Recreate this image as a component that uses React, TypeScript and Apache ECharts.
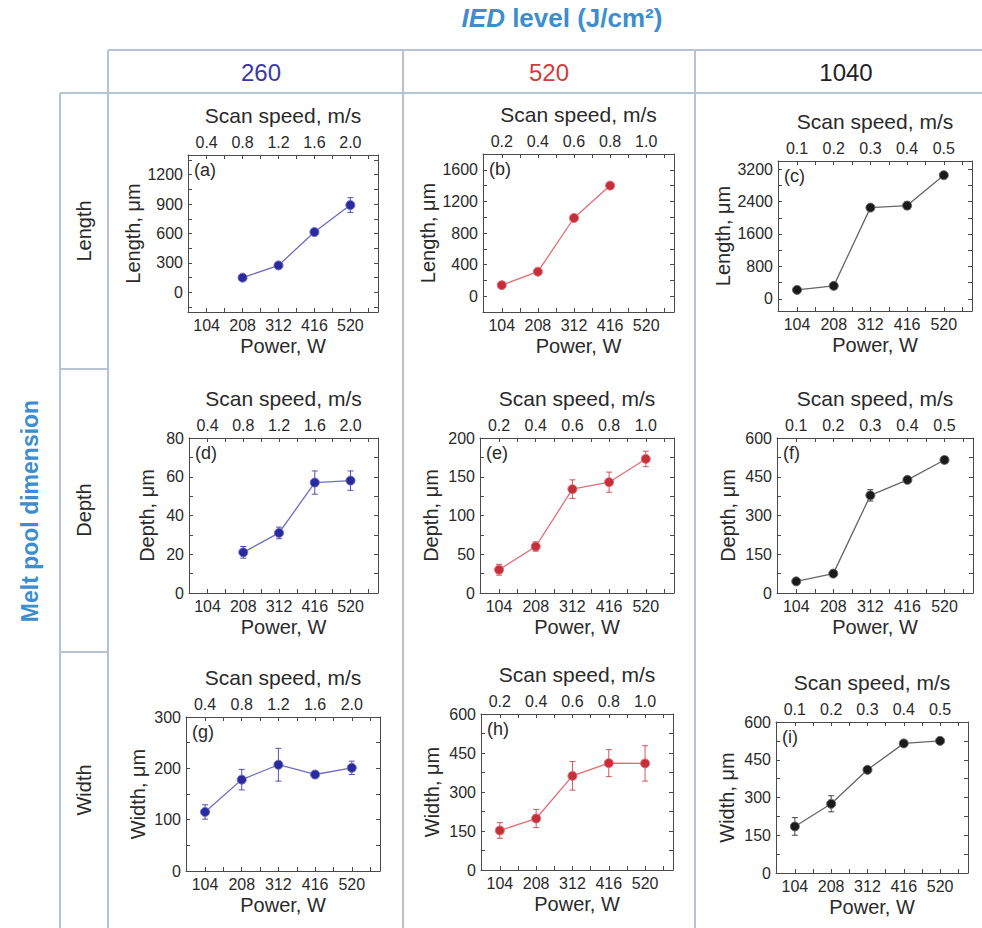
import React, { useEffect, useRef } from "react";
import * as echarts from "echarts";

// ---------- tick labels ----------
const powerTicks = [104, 208, 312, 416, 520];
const speedTicks260 = ["0.4", "0.8", "1.2", "1.6", "2.0"];
const speedTicks520 = ["0.2", "0.4", "0.6", "0.8", "1.0"];
const speedTicks1040 = ["0.1", "0.2", "0.3", "0.4", "0.5"];

const lengthTicks260 = [0, 300, 600, 900, 1200];
const lengthTicks520 = [0, 400, 800, 1200, 1600];
const lengthTicks1040 = [0, 800, 1600, 2400, 3200];
const depthTicks260 = [0, 20, 40, 60, 80];
const depthTicks520 = [0, 50, 100, 150, 200];
const depthTicks1040 = [0, 150, 300, 450, 600];
const widthTicks260 = [0, 100, 200, 300];
const widthTicks520 = [0, 150, 300, 450, 600];
const widthTicks1040 = [0, 150, 300, 450, 600];

// ---------- categories ----------
const iedLevels = ["260", "520", "1040"];
const dimensions = ["Length", "Depth", "Width"];
const panelLabels = ["(a)", "(b)", "(c)", "(d)", "(e)", "(f)", "(g)", "(h)", "(i)"];

// ---------- series values (µm) ----------
const powerA = [208, 312, 416, 520];
const lengthA = [150, 275, 615, 890];
const lengthErrA = [20, 20, 25, 75];

const powerB = [104, 208, 312, 416];
const lengthB = [140, 310, 990, 1400];
const lengthErrB = [20, 25, 30, 30];

const powerC = [104, 208, 312, 416, 520];
const lengthC = [220, 320, 2250, 2300, 3050];
const lengthErrC = [40, 50, 40, 90, 60];

const powerD = [208, 312, 416, 520];
const depthD = [21, 31, 57, 58];
const depthErrD = [3, 3, 6, 5];

const powerE = [104, 208, 312, 416, 520];
const depthE = [30, 60, 134, 143, 173];
const depthErrE = [7, 6, 12, 13, 10];

const powerF = [104, 208, 312, 416, 520];
const depthF = [45, 75, 378, 438, 515];
const depthErrF = [8, 8, 22, 10, 12];

const powerG = [104, 208, 312, 416, 520];
const widthG = [115, 178, 207, 188, 201];
const widthErrG = [14, 20, 32, 5, 13];

const powerH = [104, 208, 312, 416, 520];
const widthH = [152, 198, 362, 411, 410];
const widthErrH = [30, 35, 55, 52, 68];

const powerI = [104, 208, 312, 416, 520];
const widthI = [185, 275, 410, 515, 525];
const widthErrI = [35, 32, 8, 8, 8];

// ---------- styles / layout ----------
const FONT = "'Liberation Sans', Arial, sans-serif";
const markerColors = ["#2a2aa0", "#c4303a", "#1a1a1a"];
const lineColors = ["#6c6cc0", "#e56c76", "#666666"];
const headerColors = ["#3b37a6", "#d23c3c", "#222222"];
const titleBlue = "#3d8ecf";
const tableLine = "#b7c2d3";
const textColor = "#2a2a2a";

const grids = [
  { left: 188, top: 155, width: 190, height: 157 },
  { left: 483, top: 154, width: 191, height: 158 },
  { left: 778, top: 161, width: 194, height: 150 },
  { left: 189, top: 438, width: 189, height: 155 },
  { left: 480, top: 438, width: 194, height: 155 },
  { left: 777, top: 438, width: 196, height: 155 },
  { left: 186, top: 717, width: 194, height: 154 },
  { left: 481, top: 714, width: 192, height: 156 },
  { left: 776, top: 722, width: 192, height: 151 },
];
const yNameGaps = [45, 45, 45, 32, 39, 39, 38, 39, 39];

const panels = [
  { power: powerA, values: lengthA, errors: lengthErrA, yTicks: lengthTicks260, yMin: -200, yMax: 1400, speed: speedTicks260 },
  { power: powerB, values: lengthB, errors: lengthErrB, yTicks: lengthTicks520, yMin: -200, yMax: 1800, speed: speedTicks520 },
  { power: powerC, values: lengthC, errors: lengthErrC, yTicks: lengthTicks1040, yMin: -300, yMax: 3400, speed: speedTicks1040 },
  { power: powerD, values: depthD, errors: depthErrD, yTicks: depthTicks260, yMin: 0, yMax: 80, speed: speedTicks260 },
  { power: powerE, values: depthE, errors: depthErrE, yTicks: depthTicks520, yMin: 0, yMax: 200, speed: speedTicks520 },
  { power: powerF, values: depthF, errors: depthErrF, yTicks: depthTicks1040, yMin: 0, yMax: 600, speed: speedTicks1040 },
  { power: powerG, values: widthG, errors: widthErrG, yTicks: widthTicks260, yMin: 0, yMax: 300, speed: speedTicks260 },
  { power: powerH, values: widthH, errors: widthErrH, yTicks: widthTicks520, yMin: 0, yMax: 600, speed: speedTicks520 },
  { power: powerI, values: widthI, errors: widthErrI, yTicks: widthTicks1040, yMin: 0, yMax: 600, speed: speedTicks1040 },
];

const X_MIN = 50;
const X_MAX = 600;

function minorTicks(major: number[], lo: number, hi: number) {
  const step = major[1] - major[0];
  const out: number[] = [];
  for (let k = -2; k <= major.length * 2 + 1; k++) {
    const v = major[0] + (k * step) / 2;
    if (v >= lo && v <= hi) out.push(v);
  }
  return out;
}

function buildOption() {
  const grid: any[] = [];
  const xAxis: any[] = [];
  const yAxis: any[] = [];
  const series: any[] = [];
  const graphic: any[] = [];

  const axisLine = { show: true, onZero: false, lineStyle: { color: "#4a4a4a", width: 1 } };
  const tick = (vals: number[]) => ({
    show: true,
    inside: true,
    length: 4,
    customValues: vals,
    lineStyle: { color: "#4a4a4a", width: 1 },
  });
  const labelBase = { color: textColor, fontSize: 16, fontFamily: FONT };
  const nameBase = { color: textColor, fontSize: 20, fontFamily: FONT };

  const xTickVals = minorTicks(powerTicks, X_MIN, X_MAX);

  panels.forEach((p, i) => {
    const col = i % 3;
    const row = Math.floor(i / 3);
    const g = grids[i];
    grid.push({ ...g, containLabel: false });

    // bottom power axis
    xAxis.push({
      type: "value",
      gridIndex: i,
      position: "bottom",
      min: X_MIN,
      max: X_MAX,
      axisLine,
      axisTick: tick(xTickVals),
      splitLine: { show: false },
      axisLabel: { ...labelBase, margin: 5, customValues: powerTicks, formatter: (v: number) => String(v) },
      name: "Power, W",
      nameLocation: "middle",
      nameGap: 24,
      nameTextStyle: nameBase,
    });
    // top scan speed axis
    xAxis.push({
      type: "value",
      gridIndex: i,
      position: "top",
      min: X_MIN,
      max: X_MAX,
      axisLine,
      axisTick: tick(xTickVals),
      splitLine: { show: false },
      axisLabel: {
        ...labelBase,
        margin: 5,
        customValues: powerTicks,
        formatter: (v: number) => {
          const idx = powerTicks.indexOf(Math.round(v));
          return idx >= 0 ? p.speed[idx] : "";
        },
      },
      name: "Scan speed, m/s",
      nameLocation: "middle",
      nameGap: 29,
      nameTextStyle: { ...nameBase, fontSize: 21 },
    });
    const yTickVals = minorTicks(p.yTicks, p.yMin, p.yMax);
    // left value axis
    yAxis.push({
      type: "value",
      gridIndex: i,
      position: "left",
      min: p.yMin,
      max: p.yMax,
      axisLine,
      axisTick: tick(yTickVals),
      splitLine: { show: false },
      axisLabel: { ...labelBase, margin: 5, customValues: p.yTicks, formatter: (v: number) => String(v) },
      name: `${dimensions[row]}, μm`,
      nameLocation: "middle",
      nameRotate: 90,
      nameGap: yNameGaps[i],
      nameTextStyle: nameBase,
    });
    // right mirror axis
    yAxis.push({
      type: "value",
      gridIndex: i,
      position: "right",
      min: p.yMin,
      max: p.yMax,
      axisLine,
      axisTick: tick(yTickVals),
      splitLine: { show: false },
      axisLabel: { show: false },
    });

    const mColor = markerColors[col];
    const lColor = lineColors[col];

    series.push({
      type: "custom",
      xAxisIndex: i * 2,
      yAxisIndex: i * 2,
      z: 3,
      silent: true,
      renderItem: (params: any, api: any) => {
        const x = api.value(0);
        const lo = api.value(1);
        const hi = api.value(2);
        const a = api.coord([x, lo]);
        const b = api.coord([x, hi]);
        const cap = 3;
        const st = { stroke: mColor, lineWidth: 1, opacity: 0.8 };
        return {
          type: "group",
          children: [
            { type: "line", shape: { x1: a[0], y1: a[1], x2: b[0], y2: b[1] }, style: st },
            { type: "line", shape: { x1: a[0] - cap, y1: a[1], x2: a[0] + cap, y2: a[1] }, style: st },
            { type: "line", shape: { x1: b[0] - cap, y1: b[1], x2: b[0] + cap, y2: b[1] }, style: st },
          ],
        };
      },
      encode: { x: 0, y: [1, 2] },
      data: p.power.map((pw, k) => [pw, p.values[k] - p.errors[k], p.values[k] + p.errors[k]]),
    });

    series.push({
      type: "line",
      xAxisIndex: i * 2,
      yAxisIndex: i * 2,
      z: 4,
      symbol: "circle",
      symbolSize: 9,
      showSymbol: true,
      lineStyle: { color: lColor, width: 1.3 },
      itemStyle: { color: mColor, borderColor: lColor, borderWidth: 1 },
      data: p.power.map((pw, k) => [pw, p.values[k]]),
    });

    graphic.push({
      type: "text",
      x: g.left + 6,
      y: g.top + 6,
      style: { text: panelLabels[i], fill: textColor, fontSize: 18, fontFamily: FONT },
    });
  });

  // ---------- table frame ----------
  const ln = (x1: number, y1: number, x2: number, y2: number) => ({
    type: "line",
    silent: true,
    shape: { x1, y1, x2, y2 },
    style: { stroke: tableLine, lineWidth: 2 },
  });
  graphic.push(ln(108, 50, 982, 50));
  graphic.push(ln(60, 93, 982, 93));
  graphic.push(ln(108, 50, 108, 928));
  graphic.push(ln(403, 50, 403, 928));
  graphic.push(ln(695, 50, 695, 928));
  graphic.push(ln(60, 93, 60, 928));
  graphic.push(ln(60, 369, 108, 369));
  graphic.push(ln(60, 652, 108, 652));

  // header title
  graphic.push({
    type: "text",
    x: 562,
    y: 18,
    style: {
      text: "{i|IED} level (J/cm²)",
      rich: {
        i: { fontStyle: "italic", fontWeight: "bold", fontSize: 26, fill: titleBlue, fontFamily: FONT },
      },
      fill: titleBlue,
      fontWeight: "bold",
      fontSize: 26,
      fontFamily: FONT,
      align: "center",
      verticalAlign: "middle",
    },
  });
  const colCenters = [261, 549, 846];
  iedLevels.forEach((t, k) => {
    graphic.push({
      type: "text",
      x: colCenters[k],
      y: 72,
      style: {
        text: t,
        fill: headerColors[k],
        fontSize: 24,
        fontFamily: FONT,
        align: "center",
        verticalAlign: "middle",
      },
    });
  });
  const rowCenters = [231, 510, 790];
  dimensions.forEach((t, k) => {
    graphic.push({
      type: "text",
      x: 84,
      y: rowCenters[k],
      rotation: Math.PI / 2,
      style: {
        text: t,
        fill: textColor,
        fontSize: 20,
        fontFamily: FONT,
        align: "center",
        verticalAlign: "middle",
      },
    });
  });
  graphic.push({
    type: "text",
    x: 30,
    y: 511,
    rotation: Math.PI / 2,
    style: {
      text: "Melt pool dimension",
      fill: titleBlue,
      fontSize: 23,
      fontWeight: "bold",
      fontFamily: FONT,
      align: "center",
      verticalAlign: "middle",
    },
  });

  return {
    animation: false,
    backgroundColor: "#ffffff",
    textStyle: { fontFamily: FONT },
    grid,
    xAxis,
    yAxis,
    series,
    graphic,
  };
}

export default function App() {
  const ref = useRef<HTMLDivElement>(null);
  useEffect(() => {
    if (!ref.current) return;
    const chart = echarts.init(ref.current, undefined, { renderer: "svg" });
    chart.setOption(buildOption() as any);
    return () => chart.dispose();
  }, []);
  return (
    <div
      ref={ref}
      style={{ position: "fixed", left: 0, top: 0, width: 982, height: 928, background: "#fff" }}
    />
  );
}
